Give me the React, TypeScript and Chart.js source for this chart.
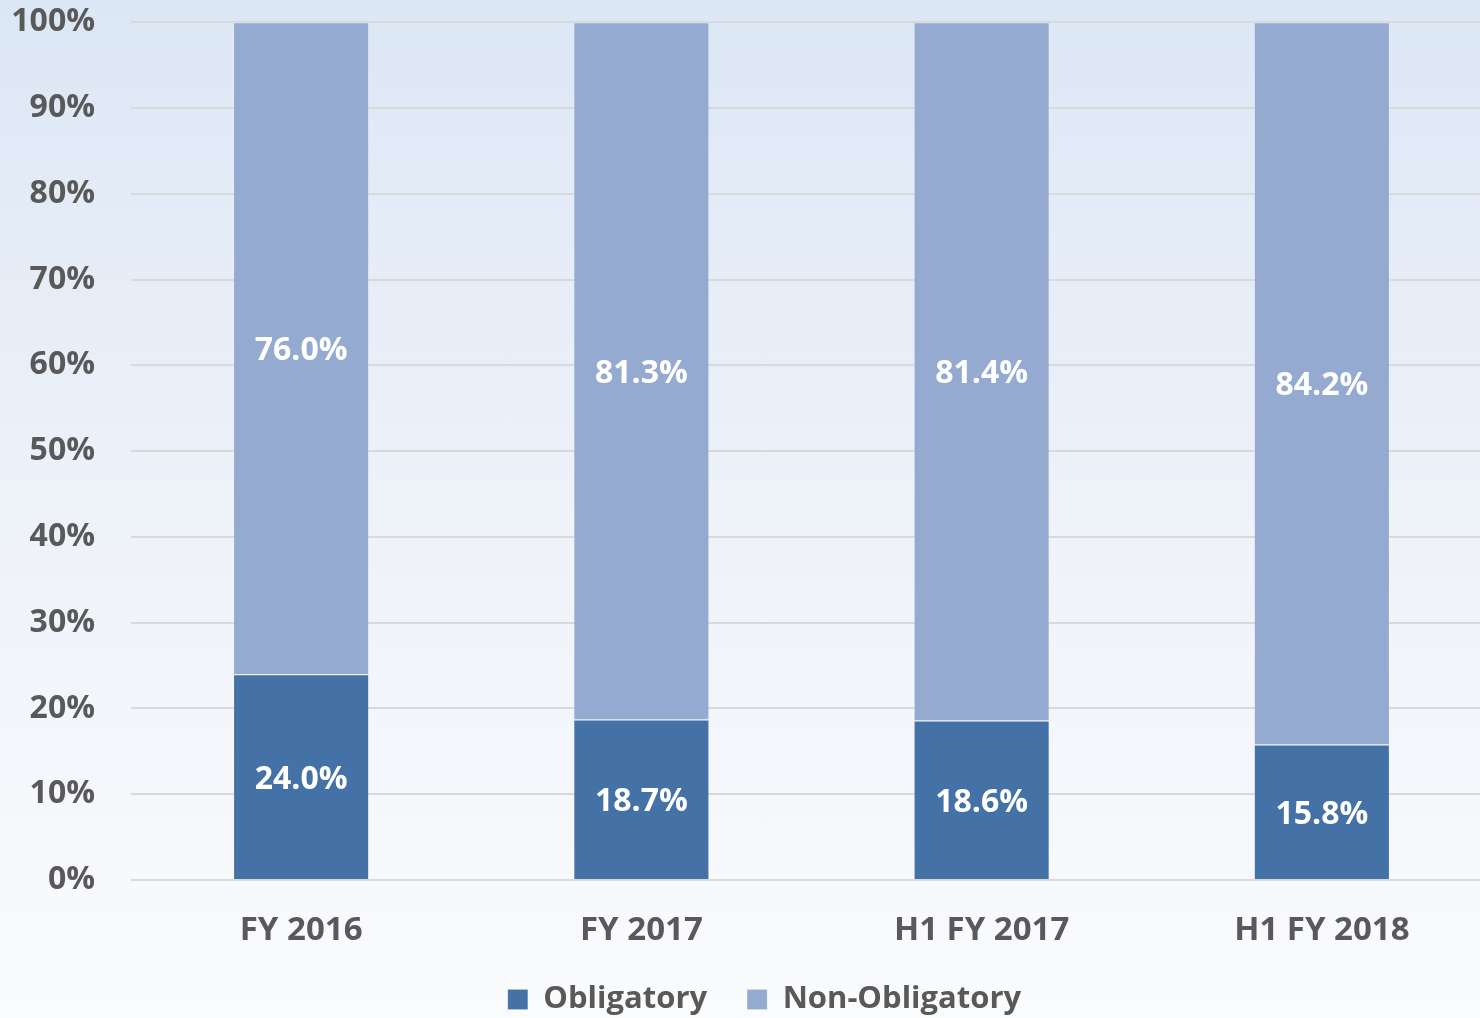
import React, { useEffect, useRef } from "react";
import { Chart, registerables } from "chart.js";

Chart.register(...registerables);

const categories = ["FY 2016", "FY 2017", "H1 FY 2017", "H1 FY 2018"];
const obligatory = [24.0, 18.7, 18.6, 15.8];
const nonObligatory = [76.0, 81.3, 81.4, 84.2];
const yTicks = [0, 10, 20, 30, 40, 50, 60, 70, 80, 90, 100];

const FONT = "'Open Sans', Lato, sans-serif";
const TEXT = "#595959";

const segmentLabels = {
  id: "segmentLabels",
  afterDatasetsDraw(chart: any) {
    const ctx = chart.ctx;
    ctx.save();
    ctx.font = `bold 32px ${FONT}`;
    ctx.fillStyle = "#ffffff";
    ctx.textAlign = "center";
    ctx.textBaseline = "middle";
    chart.data.datasets.forEach((ds: any, di: number) => {
      const meta = chart.getDatasetMeta(di);
      meta.data.forEach((el: any, i: number) => {
        const v = ds.data[i];
        const y = (el.y + el.base) / 2 + 3;
        ctx.fillText(v.toFixed(1) + "%", el.x, y);
      });
    });
    ctx.restore();
  },
};

export default function App() {
  const ref = useRef<HTMLCanvasElement>(null);
  useEffect(() => {
    document.body.style.margin = "0";
    const chart = new Chart(ref.current!, {
      type: "bar",
      data: {
        labels: categories,
        datasets: [
          {
            label: "Obligatory",
            data: obligatory,
            backgroundColor: "#4472A7",
            borderColor: "rgba(255,255,255,0.15)",
            borderWidth: 1,
            barPercentage: 0.5,
            categoryPercentage: 0.8,
          },
          {
            label: "Non-Obligatory",
            data: nonObligatory,
            backgroundColor: "#95AAD1",
            borderColor: "rgba(255,255,255,0.15)",
            borderWidth: 1,
            barPercentage: 0.5,
            categoryPercentage: 0.8,
          },
        ],
      },
      options: {
        animation: false,
        responsive: true,
        maintainAspectRatio: false,
        layout: { padding: { top: 22, left: 0, right: 0, bottom: 0 } },
        plugins: {
          legend: {
            position: "bottom",
            labels: {
              font: { family: FONT, size: 31, weight: "bold" },
              color: TEXT,
              boxWidth: 20,
              boxHeight: 20,
              padding: 40,
            },
          },
          tooltip: { enabled: false },
        },
        scales: {
          x: {
            stacked: true,
            grid: { display: false },
            border: { display: false },
            ticks: {
              font: { family: FONT, size: 33, weight: "bold" },
              color: TEXT,
              padding: 23,
            },
            afterFit: (s: any) => {
              s.height = 64;
            },
          },
          y: {
            stacked: true,
            min: 0,
            max: 100,
            afterBuildTicks: (s: any) => {
              s.ticks = yTicks.map((v) => ({ value: v }));
            },
            grid: { color: "#D9D9D9", lineWidth: 2, drawTicks: false },
            border: { display: false },
            ticks: {
              font: { family: FONT, size: 32, weight: "bold" },
              color: TEXT,
              padding: 36,
              callback: (v: any) => v + "%",
            },
            afterFit: (s: any) => {
              s.width = 131;
            },
          },
          yRight: {
            position: "right",
            display: true,
            grid: { display: false },
            border: { display: false },
            ticks: { display: false },
            afterFit: (s: any) => {
              s.width = 37;
            },
          },
        },
      },
      plugins: [segmentLabels],
    });
    return () => chart.destroy();
  }, []);

  return (
    <div
      style={{
        position: "fixed",
        left: 0,
        top: 0,
        width: 1480,
        height: 1018,
        overflow: "hidden",
        background: "linear-gradient(to bottom, #dce7f5 0%, #eef2f9 50%, #fafbfd 100%)",
      }}
    >
      <div style={{ position: "absolute", left: 0, top: -33, width: 1529, height: 1058 }}>
        <canvas ref={ref} />
      </div>
    </div>
  );
}
